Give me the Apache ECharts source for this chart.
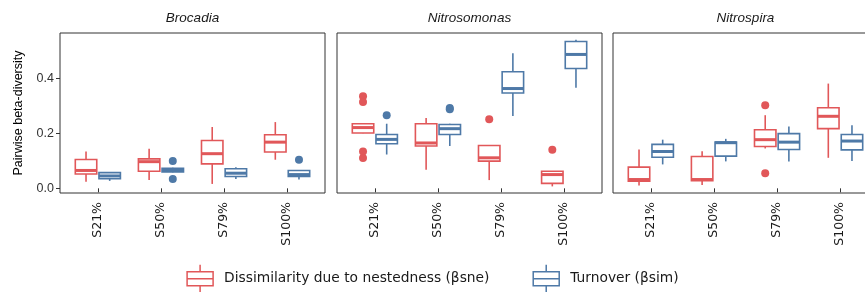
<!DOCTYPE html>
<html>
<head>
<meta charset="utf-8">
<script src="https://cdn.jsdelivr.net/npm/echarts@6/dist/echarts.min.js"></script>
<style>
  html, body { margin: 0; padding: 0; background: #fff; }
  #chart { width: 865px; height: 292px; }
</style>
</head>
<body>
<div id="chart"></div>
<script>
const facets = ['Brocadia', 'Nitrosomonas', 'Nitrospira'];
const categories = ['S21%', 'S50%', 'S79%', 'S100%'];
const yTicks = [0, 0.2, 0.4];

// box stats per facet: [lower whisker, q1, median, q3, upper whisker] for each category
const nestednessBoxes = [
  [[0.024, 0.052, 0.065, 0.105, 0.134], [0.030, 0.062, 0.097, 0.107, 0.144], [0.016, 0.089, 0.126, 0.174, 0.223], [0.104, 0.132, 0.168, 0.195, 0.241]],
  [[0.200, 0.201, 0.221, 0.235, 0.236], [0.068, 0.154, 0.165, 0.235, 0.256], [0.030, 0.099, 0.111, 0.156, 0.156], [0.007, 0.018, 0.050, 0.062, 0.062]],
  [[0.010, 0.026, 0.032, 0.077, 0.141], [0.012, 0.028, 0.032, 0.116, 0.135], [0.145, 0.152, 0.177, 0.213, 0.266], [0.111, 0.217, 0.262, 0.293, 0.381]]
];
const turnoverBoxes = [
  [[0.027, 0.035, 0.045, 0.057, 0.058], [0.058, 0.060, 0.067, 0.073, 0.075], [0.034, 0.043, 0.055, 0.071, 0.077], [0.032, 0.043, 0.050, 0.065, 0.066]],
  [[0.123, 0.162, 0.178, 0.196, 0.235], [0.154, 0.196, 0.217, 0.232, 0.235], [0.263, 0.347, 0.363, 0.424, 0.491], [0.366, 0.436, 0.487, 0.534, 0.540]],
  [[0.087, 0.113, 0.134, 0.160, 0.177], [0.098, 0.117, 0.166, 0.168, 0.180], [0.098, 0.141, 0.168, 0.199, 0.225], [0.099, 0.140, 0.172, 0.196, 0.229]]
];
// outliers per facet: [category index, value]
const nestednessOutliers = [
  [],
  [[0, 0.335], [0, 0.314], [0, 0.134], [0, 0.110], [2, 0.251], [3, 0.140]],
  [[2, 0.302], [2, 0.055]]
];
const turnoverOutliers = [
  [[1, 0.099], [1, 0.034], [3, 0.104]],
  [[0, 0.266], [1, 0.292], [1, 0.288]],
  []
];

const RED = '#E15759';
const BLUE = '#4E79A7';
const NEST_NAME = 'Dissimilarity due to nestedness (\u03b2sne)';
const TURN_NAME = 'Turnover (\u03b2sim)';
const DODGE = 0.1875;
const HALF = 0.17;

const chart = echarts.init(document.getElementById('chart'));

const renderBox = (params, api) => {
  const x = api.value(0);
  const lo = api.value(1), q1 = api.value(2), med = api.value(3), q3 = api.value(4), hi = api.value(5);
  const color = api.visual('color');
  const tl = api.coord([x - HALF, q3]);
  const br = api.coord([x + HALF, q1]);
  const top = api.coord([x, hi]);
  const bot = api.coord([x, lo]);
  const m = api.coord([x, med]);
  const stroke = { stroke: color, lineWidth: 1.6 };
  return {
    type: 'group',
    children: [
      { type: 'line', shape: { x1: top[0], y1: top[1], x2: top[0], y2: tl[1] }, style: stroke },
      { type: 'line', shape: { x1: bot[0], y1: br[1], x2: bot[0], y2: bot[1] }, style: stroke },
      { type: 'rect', shape: { x: tl[0], y: tl[1], width: br[0] - tl[0], height: br[1] - tl[1] },
        style: { fill: '#fff', stroke: color, lineWidth: 1.6 } },
      { type: 'line', shape: { x1: tl[0], y1: m[1], x2: br[0], y2: m[1] }, style: { stroke: color, lineWidth: 3 } }
    ]
  };
};

const boxData = (boxes, offset) => boxes.map((b, i) => [i + 1 + offset, ...b]);
const outlierData = (pts, offset) => pts.map(p => [p[0] + 1 + offset, p[1]]);

const grids = [];
const xAxes = [];
const yAxes = [];
const series = [];
const lefts = [60, 337, 613];

facets.forEach((facet, i) => {
  grids.push({ left: lefts[i], top: 33, width: 265, height: 160, outerBoundsMode: 'none', containLabel: false,
    show: true, borderColor: '#333', borderWidth: 1, backgroundColor: '#fff' });
  xAxes.push({
    type: 'value', gridIndex: i, min: 0.4, max: 4.6,
    axisLine: { show: false },
    splitLine: { show: false },
    axisTick: { show: true, length: 4, customValues: [1, 2, 3, 4], lineStyle: { color: '#333' } },
    axisLabel: {
      customValues: [1, 2, 3, 4], rotate: 90, margin: 9,
      formatter: v => categories[v - 1],
      color: '#1a1a1a', fontFamily: 'DejaVu Sans', fontSize: 12.5
    }
  });
  yAxes.push({
    type: 'value', gridIndex: i, min: -0.017, max: 0.565,
    name: i === 0 ? 'Pairwise beta-diversity' : '',
    nameLocation: 'middle', nameGap: 35,
    nameTextStyle: { color: '#000', fontFamily: 'Liberation Sans', fontSize: 12.5 },
    axisLine: { show: false },
    splitLine: { show: false },
    axisTick: { show: i === 0, length: 4, customValues: yTicks, lineStyle: { color: '#333' } },
    axisLabel: {
      show: i === 0, customValues: yTicks, margin: 6,
      formatter: v => v.toFixed(1),
      color: '#333', fontFamily: 'Liberation Sans', fontSize: 12.5
    }
  });
  series.push(
    { name: NEST_NAME, type: 'custom', xAxisIndex: i, yAxisIndex: i, itemStyle: { color: RED },
      renderItem: renderBox, encode: { x: 0, y: [1, 2, 3, 4, 5] }, data: boxData(nestednessBoxes[i], -DODGE) },
    { name: TURN_NAME, type: 'custom', xAxisIndex: i, yAxisIndex: i, itemStyle: { color: BLUE },
      renderItem: renderBox, encode: { x: 0, y: [1, 2, 3, 4, 5] }, data: boxData(turnoverBoxes[i], DODGE) },
    { name: NEST_NAME, type: 'scatter', xAxisIndex: i, yAxisIndex: i, symbolSize: 8,
      itemStyle: { color: RED, opacity: 1 }, data: outlierData(nestednessOutliers[i], -DODGE) },
    { name: TURN_NAME, type: 'scatter', xAxisIndex: i, yAxisIndex: i, symbolSize: 8,
      itemStyle: { color: BLUE, opacity: 1 }, data: outlierData(turnoverOutliers[i], DODGE) }
  );
});

const legendIcon = 'path://M13,0L13,7M0,7L26,7L26,21L0,21ZM0,14L26,14M13,21L13,28';

chart.setOption({
  animation: false,
  graphic: facets.map((f, i) => ({
    type: 'text', x: lefts[i] + 132.5, y: 18,
    style: { text: f, align: 'center', verticalAlign: 'middle', fill: '#1a1a1a',
      font: 'italic 13.5px "Liberation Sans"' }
  })),
  legend: {
    left: 'center', top: 259, itemWidth: 26, itemHeight: 28, itemGap: 43,
    textStyle: { color: '#1a1a1a', fontFamily: 'DejaVu Sans', fontSize: 13.8, padding: [0, 0, 0, 6] },
    data: [
      { name: NEST_NAME, icon: legendIcon, itemStyle: { color: '#fff', borderColor: RED, borderWidth: 1.5 } },
      { name: TURN_NAME, icon: legendIcon, itemStyle: { color: '#fff', borderColor: BLUE, borderWidth: 1.5 } }
    ]
  },
  grid: grids,
  xAxis: xAxes,
  yAxis: yAxes,
  series
});
</script>
</body>
</html>
